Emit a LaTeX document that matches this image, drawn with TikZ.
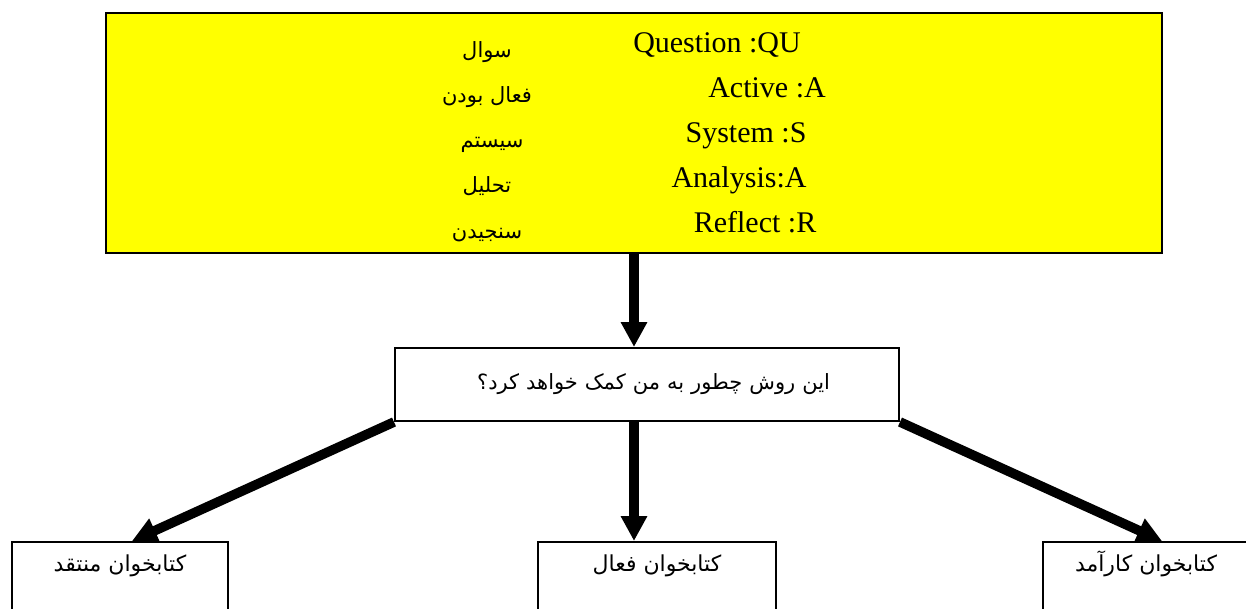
\documentclass[tikz,border=0pt]{standalone}
\usepackage{fontspec}
\setmainfont{Liberation Serif}
\newfontfamily\fafont[Script=Arabic]{DejaVu Sans}
\TeXXeTstate=1
\usetikzlibrary{arrows.meta}
\definecolor{keyyellow}{RGB}{255,255,0}
\newcommand{\fatext}[1]{{\fafont\beginR #1\endR}}

\begin{document}
\begin{tikzpicture}[
    x=0.5pt, y=-0.5pt,
    keybox/.style={
        draw,
        fill=keyyellow,
        line width=1pt,
        inner sep=0pt,
        minimum width=528pt,
        minimum height=120pt
    },
    askbox/.style={
        draw,
        line width=1pt,
        inner ysep=0pt,
        inner xsep=34.5pt,
        text width=183pt,
        align=right,
        minimum height=36.5pt,
        font=\fontsize{10.5}{13}\selectfont
    },
    readerbox/.style={
        draw,
        line width=1pt,
        anchor=north,
        inner xsep=0pt,
        inner ysep=4pt,
        text height=10.5pt,
        text depth=31pt,
        font=\fontsize{11}{13}\selectfont
    },
    term/.style={
        anchor=base,
        inner sep=0pt,
        font=\fontsize{15}{18}\selectfont
    },
    meaning/.style={
        anchor=base,
        inner sep=0pt,
        font=\fontsize{10.5}{12}\selectfont
    },
    flow/.style={
        -{Triangle[length=12.5pt,width=12.5pt]},
        line width=4.8pt
    }
]
\useasboundingbox (0,0) rectangle (1246,609);
\clip (0,0) rectangle (1246,609);

% Key box
\node[keybox] (key) at (634,133) {};
\node[term] (qu) at (717,53) {Question :QU};
\node[term] (ac) at (767,98) {Active :A};
\node[term] (sy) at (746,143) {System :S};
\node[term] (an) at (739,188) {Analysis:A};
\node[term] (re) at (755,233) {Reflect :R};
\node[meaning] (quFa) at (487,58) {\fatext{سوال}};
\node[meaning] (acFa) at (487,103) {\fatext{فعال بودن}};
\node[meaning] (syFa) at (492,148) {\fatext{سیستم}};
\node[meaning] (anFa) at (487,193) {\fatext{تحلیل}};
\node[meaning] (reFa) at (487,238) {\fatext{سنجیدن}};

% Question box
\node[askbox] (ask) at (647,384.5) {\fatext{این روش چطور به من کمک خواهد کرد؟}};

% Readers
\node[readerbox, minimum width=108pt] (critic) at (120,541) {\fatext{کتابخوان منتقد}};
\node[readerbox, minimum width=119pt] (active) at (657,541) {\fatext{کتابخوان فعال}};
\node[readerbox, minimum width=103pt] (efficient) at (1146,541) {\fatext{کتابخوان کارآمد}};

% Arrows
\draw[flow] (key.south) -- (key.south |- ask.north);
\draw[flow] (ask.south west) -- ([xshift=6pt]critic.north);
\draw[flow] (key.south |- ask.south) -- (key.south |- active.north);
\draw[flow] (ask.south east) -- ([xshift=8pt]efficient.north);

\end{tikzpicture}
\end{document}
